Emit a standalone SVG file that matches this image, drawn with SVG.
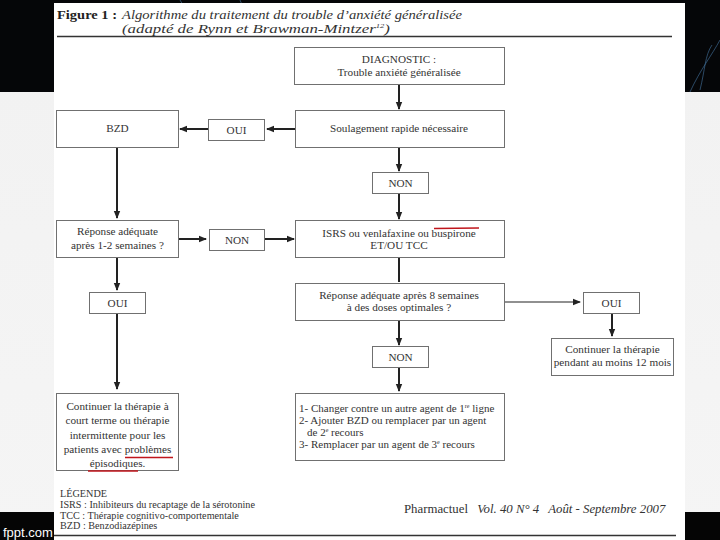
<svg xmlns="http://www.w3.org/2000/svg" width="720" height="540" viewBox="0 0 720 540">
<defs>
<linearGradient id="bgGray" x1="0" y1="0" x2="0" y2="1">
<stop offset="0" stop-color="#e6e6e6"/>
<stop offset="0.15" stop-color="#f2f2f2"/>
<stop offset="1" stop-color="#f5f5f5"/>
</linearGradient>
<marker id="ah" markerWidth="8" markerHeight="8" refX="7" refY="4" orient="auto" markerUnits="userSpaceOnUse">
<path d="M0,0.8 L8,4 L0,7.2 Z" fill="#222"/>
</marker>
<style>
.box{fill:#fff;stroke:#707070;stroke-width:1}
.t{font-family:"Liberation Serif","DejaVu Serif",serif;font-size:11.2px;fill:#333;text-anchor:middle}
.tl{font-family:"Liberation Serif","DejaVu Serif",serif;font-size:11px;fill:#333}
.lg{font-family:"Liberation Serif","DejaVu Serif",serif;font-size:10.2px;fill:#333}
.ti{font-family:"Liberation Serif","DejaVu Serif",serif;font-size:12.6px;font-style:italic;fill:#333}
.c{stroke:#222;stroke-width:2;fill:none}
.thin{stroke:#222;stroke-width:1.1;fill:none}
.red{stroke:#c0161c;stroke-width:1.6;fill:none}
</style>
</defs>
<rect x="0" y="0" width="720" height="540" fill="url(#bgGray)"/>
<rect x="0" y="0" width="720" height="92" fill="#050608"/>
<rect x="0" y="512" width="720" height="28" fill="#050505"/>
<g fill="none" stroke="#4a7fb0" stroke-opacity="0.55" stroke-width="1">
<path d="M180,0 C185,10 195,14 200,20"/>
<path d="M690,92 C700,70 712,55 720,40"/>
<path d="M700,90 C705,70 705,55 712,45"/>
<path d="M240,0 C242,6 246,8 250,12"/>
</g>
<text x="3" y="537" font-family="Liberation Sans, Arial, sans-serif" font-size="13" fill="#fff">fppt.com</text>
<rect x="54" y="3" width="631" height="537" fill="#ffffff"/>
<text x="57" y="18.5" font-family="Liberation Serif, serif" font-size="13" font-weight="bold" fill="#222" textLength="60" lengthAdjust="spacingAndGlyphs">Figure 1 :</text>
<text class="ti" x="122" y="18.5" textLength="340" lengthAdjust="spacingAndGlyphs">Algorithme du traitement du trouble d’anxiété généralisée</text>
<text class="ti" x="122" y="33" textLength="268" lengthAdjust="spacingAndGlyphs">(adapté de Rynn et Brawman-Mintzer<tspan font-size="6.5" dy="-5">12</tspan><tspan dy="5">)</tspan></text>
<line x1="57" y1="36.5" x2="672" y2="36.5" stroke="#333" stroke-width="1.5"/>
<g id="connectors">
<line class="c" x1="399" y1="84" x2="399" y2="109" marker-end="url(#ah)"/>
<line class="c" x1="295" y1="129" x2="267" y2="129" marker-end="url(#ah)"/>
<line class="c" x1="208" y1="129" x2="180" y2="129" marker-end="url(#ah)"/>
<line class="c" x1="117" y1="147" x2="117" y2="218" marker-end="url(#ah)"/>
<line class="c" x1="399" y1="147" x2="399" y2="171" marker-end="url(#ah)"/>
<line class="c" x1="399" y1="193" x2="399" y2="219" marker-end="url(#ah)"/>
<line class="c" x1="178" y1="239" x2="206" y2="239" marker-end="url(#ah)"/>
<line class="c" x1="265" y1="239" x2="294" y2="239" marker-end="url(#ah)"/>
<line class="c" x1="117" y1="257" x2="117" y2="290" marker-end="url(#ah)"/>
<line class="c" x1="117" y1="313" x2="117" y2="389" marker-end="url(#ah)"/>
<line class="c" x1="399" y1="257" x2="399" y2="282"/>
<line class="thin" x1="504" y1="302" x2="580" y2="302" marker-end="url(#ah)"/>
<line class="c" x1="612" y1="313" x2="612" y2="336" marker-end="url(#ah)"/>
<line class="c" x1="399" y1="320" x2="399" y2="345" marker-end="url(#ah)"/>
<line class="c" x1="399" y1="367" x2="399" y2="391" marker-end="url(#ah)"/>
</g>
<g id="diagnostic">
<rect class="box" x="294.5" y="47.5" width="210" height="37"/>
<text class="t" x="399" y="63">DIAGNOSTIC :</text>
<text class="t" x="399" y="75.5">Trouble anxiété généralisée</text>
</g>
<g id="soulagement">
<rect class="box" x="295.5" y="110.5" width="209" height="37"/>
<text class="t" x="399" y="132">Soulagement rapide nécessaire</text>
</g>
<g id="oui1">
<rect class="box" x="208.5" y="119.5" width="56" height="21"/>
<text class="t" x="236.5" y="134">OUI</text>
</g>
<g id="bzd">
<rect class="box" x="56.5" y="110.5" width="122" height="37"/>
<text class="t" x="117.5" y="132">BZD</text>
</g>
<g id="non1">
<rect class="box" x="372.5" y="172.5" width="56" height="21"/>
<text class="t" x="400.5" y="187">NON</text>
</g>
<g id="isrs">
<rect class="box" x="295.5" y="220.5" width="209" height="37"/>
<text class="t" x="399" y="237">ISRS ou venlafaxine ou buspirone</text>
<text class="t" x="399" y="249">ET/OU TCC</text>
<line class="red" x1="434" y1="228.5" x2="479" y2="228"/>
</g>
<g id="reponse12">
<rect class="box" x="56.5" y="220.5" width="122" height="37"/>
<text class="t" x="117.5" y="235">Réponse adéquate</text>
<text class="t" x="117.5" y="249">après 1-2 semaines ?</text>
</g>
<g id="non2">
<rect class="box" x="209.5" y="229.5" width="55" height="21"/>
<text class="t" x="237" y="244">NON</text>
</g>
<g id="oui2">
<rect class="box" x="89.5" y="292.5" width="56" height="21"/>
<text class="t" x="117.5" y="307">OUI</text>
</g>
<g id="continuer-court">
<rect class="box" x="56.5" y="393.5" width="122" height="77"/>
<text class="t" x="117.5" y="410" font-size="11.6">Continuer la thérapie à</text>
<text class="t" x="117.5" y="424" font-size="11.6">court terme ou thérapie</text>
<text class="t" x="117.5" y="438.5" font-size="11.6">intermittente pour les</text>
<text class="t" x="117.5" y="453" font-size="11.6">patients avec problèmes</text>
<text class="t" x="117.5" y="467" font-size="11.6">épisodiques.</text>
<line class="red" x1="125" y1="457.5" x2="173" y2="457.5"/>
<line class="red" x1="88" y1="471" x2="138" y2="471"/>
</g>
<g id="reponse8">
<rect class="box" x="295.5" y="283.5" width="209" height="37"/>
<text class="t" x="399" y="299">Réponse adéquate après 8 semaines</text>
<text class="t" x="399" y="311">à des doses optimales ?</text>
</g>
<g id="oui3">
<rect class="box" x="583.5" y="292.5" width="56" height="21"/>
<text class="t" x="611.5" y="307">OUI</text>
</g>
<g id="continuer-12">
<rect class="box" x="551.5" y="338.5" width="122" height="37"/>
<text class="t" x="612.5" y="353">Continuer la thérapie</text>
<text class="t" x="612.5" y="366">pendant au moins 12 mois</text>
</g>
<g id="non3">
<rect class="box" x="372.5" y="346.5" width="56" height="21"/>
<text class="t" x="400.5" y="361">NON</text>
</g>
<g id="options">
<rect class="box" x="295.5" y="393.5" width="209" height="67"/>
<text class="tl" x="299" y="412">1- Changer contre un autre agent de 1<tspan font-size="6" dy="-4">re</tspan><tspan dy="4"> ligne</tspan></text>
<text class="tl" x="299" y="424">2- Ajouter BZD ou remplacer par un agent</text>
<text class="tl" x="307" y="436">de 2<tspan font-size="6" dy="-4">e</tspan><tspan dy="4"> recours</tspan></text>
<text class="tl" x="299" y="448">3- Remplacer par un agent de 3<tspan font-size="6" dy="-4">e</tspan><tspan dy="4"> recours</tspan></text>
</g>
<g id="legende">
<text class="lg" x="60" y="497">LÉGENDE</text>
<text class="lg" x="60" y="508">ISRS  : Inhibiteurs du recaptage de la sérotonine</text>
<text class="lg" x="60" y="518.5">TCC : Thérapie cognitivo-comportementale</text>
<text class="lg" x="60" y="529">BZD  : Benzodiazépines</text>
</g>
<text x="404" y="513" font-family="Liberation Serif, serif" font-size="12.8" fill="#333">Pharmactuel <tspan font-style="italic" dx="6">Vol. 40 N° 4</tspan><tspan font-style="italic" dx="9">Août - Septembre 2007</tspan></text>
<line x1="54" y1="535.5" x2="676" y2="535.5" stroke="#333" stroke-width="1.5"/>
</svg>
